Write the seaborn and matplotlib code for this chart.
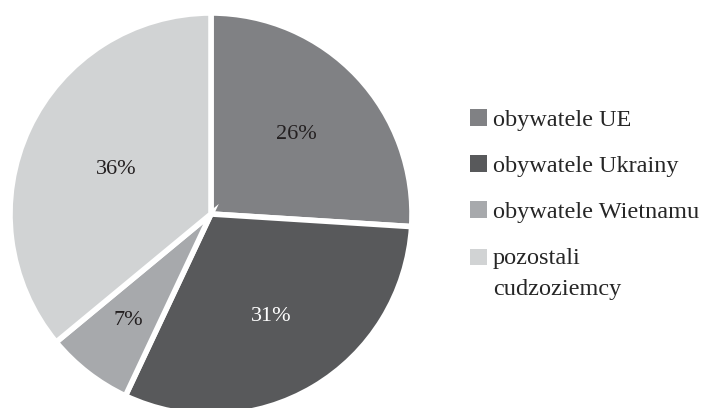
import matplotlib
matplotlib.use("Agg")
import matplotlib.pyplot as plt
from matplotlib.patches import Rectangle
from matplotlib.legend_handler import HandlerPatch
import seaborn as sns
import numpy as np

# dane
kategorie = ["obywatele UE", "obywatele Ukrainy", "obywatele Wietnamu", "pozostali\ncudzoziemcy"]
udzialy = [26, 31, 7, 36]
kolory = ["#808184", "#58595b", "#a7a9ac", "#d1d3d4"]
kolory_tekstu = ["#231f20", "#ffffff", "#231f20", "#231f20"]
odl_etykiet = [0.58, 0.59, 0.67, 0.52]

sns.set_theme(style="white")
plt.rcParams["font.family"] = ["Liberation Serif", "DejaVu Serif"]

fig = plt.figure(figsize=(7.1, 4.08), dpi=100)
W, H = 710, 408
cx, cy, r = 211, 214, 201
ax = fig.add_axes([(cx - r) / W, (H - cy - r) / H, 2 * r / W, 2 * r / H])

wedges, _ = ax.pie(udzialy, colors=kolory, startangle=90, counterclock=False,
                   radius=1, wedgeprops=dict(edgecolor="white", linewidth=4))
ax.set_xlim(-1, 1)
ax.set_ylim(-1, 1)
ax.set_aspect("equal")
ax.axis("off")

for w, val, kol, d in zip(wedges, udzialy, kolory_tekstu, odl_etykiet):
    kat = np.deg2rad((w.theta1 + w.theta2) / 2)
    ax.text(d * np.cos(kat), d * np.sin(kat), f"{val}%", ha="center", va="center",
            fontsize=16, color=kol)

etykiety = {w: k for w, k in zip(wedges, kategorie)}
odstep = 1.65


# kwadrat legendy przy pierwszej linii etykiety wielowierszowej
def kwadrat(legend, orig_handle, xdescent, ydescent, width, height, fontsize):
    n = etykiety[orig_handle].count("\n")
    przes = n * 0.5 * 0.815 * odstep * fontsize
    return Rectangle((-xdescent, -ydescent + przes), width, height)


leg = fig.legend(wedges, kategorie, loc="upper left", bbox_to_anchor=(470 / W, 1 - 109 / H),
                 frameon=False, fontsize=17.5, handlelength=0.7, handleheight=0.68,
                 handletextpad=0.25, labelspacing=1.0, borderpad=0, borderaxespad=0,
                 handler_map={w: HandlerPatch(patch_func=kwadrat) for w in wedges})
for p in leg.get_patches():
    p.set_linewidth(0)
for t in leg.get_texts():
    t.set_linespacing(odstep)

fig.savefig("out.png", dpi=100)
